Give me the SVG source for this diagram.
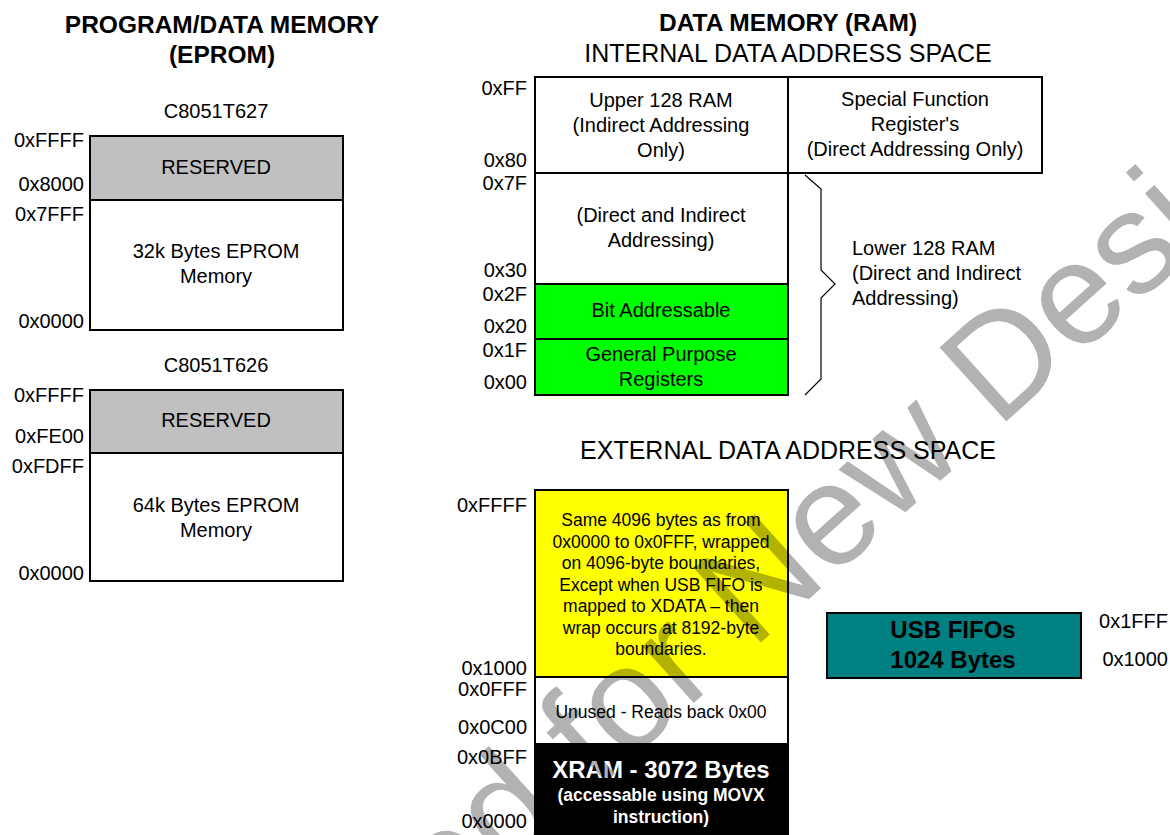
<svg xmlns="http://www.w3.org/2000/svg" width="1170" height="835" viewBox="0 0 1170 835">
<style>
text{font-family:"Liberation Sans",Arial,sans-serif;fill:#000}
.t{font-size:24.5px;font-weight:bold;text-anchor:middle}
.h{font-size:25px;text-anchor:middle}
.b{font-size:20px;text-anchor:middle}
.s{font-size:17.5px;text-anchor:middle}
.a{font-size:20px;text-anchor:end}
.al{font-size:20px;text-anchor:start}
.box{stroke:#000;stroke-width:2}
.w{fill:#fff}
.g{fill:#c0c0c0}
.gr{fill:#00ff00}
.y{fill:#ffff00}
.k{fill:#000}
.tl{fill:#008080}
.bw{font-size:24px;font-weight:bold;text-anchor:middle;fill:#fff}
.bws{font-size:17.5px;font-weight:bold;text-anchor:middle;fill:#fff}
.bb{font-size:24px;font-weight:bold;text-anchor:middle}
.wm{font-size:145px;fill:#000;fill-opacity:0.3}
</style>

<g id="titles">
<text class="t" x="222" y="33">PROGRAM/DATA MEMORY</text>
<text class="t" x="222" y="63">(EPROM)</text>
<text class="t" x="788" y="31">DATA MEMORY (RAM)</text>
<text class="h" x="788" y="62">INTERNAL DATA  ADDRESS SPACE</text>
<text class="h" x="788" y="459">EXTERNAL DATA ADDRESS SPACE</text>
</g>

<g id="c8051t627">
<text class="b" x="216" y="118">C8051T627</text>
<rect class="box g" x="90" y="136" width="253" height="64"/>
<rect class="box w" x="90" y="200" width="253" height="130"/>
<text class="b" x="216" y="174">RESERVED</text>
<text class="b" x="216" y="258">32k Bytes EPROM</text>
<text class="b" x="216" y="283">Memory</text>
<text class="a" x="84" y="147">0xFFFF</text>
<text class="a" x="84" y="191">0x8000</text>
<text class="a" x="84" y="221">0x7FFF</text>
<text class="a" x="84" y="328">0x0000</text>
</g>

<g id="c8051t626">
<text class="b" x="216" y="372">C8051T626</text>
<rect class="box g" x="90" y="390" width="253" height="63"/>
<rect class="box w" x="90" y="453" width="253" height="128"/>
<text class="b" x="216" y="427">RESERVED</text>
<text class="b" x="216" y="512">64k Bytes EPROM</text>
<text class="b" x="216" y="537">Memory</text>
<text class="a" x="84" y="402">0xFFFF</text>
<text class="a" x="84" y="443">0xFE00</text>
<text class="a" x="84" y="473">0xFDFF</text>
<text class="a" x="84" y="580">0x0000</text>
</g>

<g id="upper128">
<rect class="box w" x="535" y="77" width="253" height="96"/>
<text class="b" x="661" y="107">Upper 128 RAM</text>
<text class="b" x="661" y="132">(Indirect Addressing</text>
<text class="b" x="661" y="157">Only)</text>
<text class="a" x="527" y="95">0xFF</text>
<text class="a" x="527" y="167">0x80</text>
</g>

<g id="sfr">
<rect class="box w" x="788" y="77" width="254" height="96"/>
<text class="b" x="915" y="106">Special Function</text>
<text class="b" x="915" y="131">Register's</text>
<text class="b" x="915" y="156">(Direct Addressing Only)</text>
</g>

<g id="direct-indirect">
<rect class="box w" x="535" y="173" width="253" height="111"/>
<text class="b" x="661" y="222">(Direct and Indirect</text>
<text class="b" x="661" y="247">Addressing)</text>
<text class="a" x="527" y="190">0x7F</text>
<text class="a" x="527" y="277">0x30</text>
</g>

<g id="bit-addressable">
<rect class="box gr" x="535" y="284" width="253" height="55"/>
<text class="b" x="661" y="317">Bit Addressable</text>
<text class="a" x="527" y="301">0x2F</text>
<text class="a" x="527" y="333">0x20</text>
</g>

<g id="gp-registers">
<rect class="box gr" x="535" y="339" width="253" height="56"/>
<text class="b" x="661" y="361">General Purpose</text>
<text class="b" x="661" y="386">Registers</text>
<text class="a" x="527" y="357">0x1F</text>
<text class="a" x="527" y="389">0x00</text>
</g>

<g id="lower128-label">
<text class="al" x="852" y="255">Lower 128 RAM</text>
<text class="al" x="852" y="280">(Direct and Indirect</text>
<text class="al" x="852" y="305">Addressing)</text>
</g>

<g id="wrap-region">
<rect class="box y" x="535" y="490" width="253" height="187"/>
<text class="s" x="661" y="526">Same 4096 bytes as from</text>
<text class="s" x="661" y="547.5">0x0000 to 0x0FFF, wrapped</text>
<text class="s" x="661" y="569">on 4096-byte boundaries,</text>
<text class="s" x="661" y="590.5">Except when USB FIFO is</text>
<text class="s" x="661" y="612">mapped to XDATA – then</text>
<text class="s" x="661" y="633.5">wrap occurs at 8192-byte</text>
<text class="s" x="661" y="655">boundaries.</text>
<text class="a" x="527" y="512">0xFFFF</text>
<text class="a" x="527" y="675">0x1000</text>
</g>

<g id="unused">
<rect class="box w" x="535" y="677" width="253" height="67"/>
<text class="s" x="661" y="718">Unused - Reads back 0x00</text>
<text class="a" x="527" y="696">0x0FFF</text>
<text class="a" x="527" y="734">0x0C00</text>
</g>

<g id="xram">
<rect class="box k" x="535" y="744" width="253" height="95"/>
<text class="bw" x="661" y="778">XRAM - 3072 Bytes</text>
<text class="bws" x="661" y="801">(accessable using MOVX</text>
<text class="bws" x="661" y="823">instruction)</text>
<text class="a" x="527" y="764">0x0BFF</text>
<text class="a" x="527" y="828">0x0000</text>
</g>

<g id="usb-fifos">
<rect class="box tl" x="827" y="613" width="254" height="65"/>
<text class="bb" x="953" y="638">USB FIFOs</text>
<text class="bb" x="953" y="668">1024 Bytes</text>
<text class="a" x="1168" y="628">0x1FFF</text>
<text class="a" x="1168" y="666">0x1000</text>
</g>

<g id="connectors">
<polyline points="805,175 821,189 821,270 835,284 821,298 821,379 805,395" fill="none" stroke="#000" stroke-width="1.2"/>
</g>

<g id="watermark">
<text class="wm" transform="translate(506,872) rotate(-42)" x="-1168">Not Recommended for New Designs</text>
</g>
</svg>
